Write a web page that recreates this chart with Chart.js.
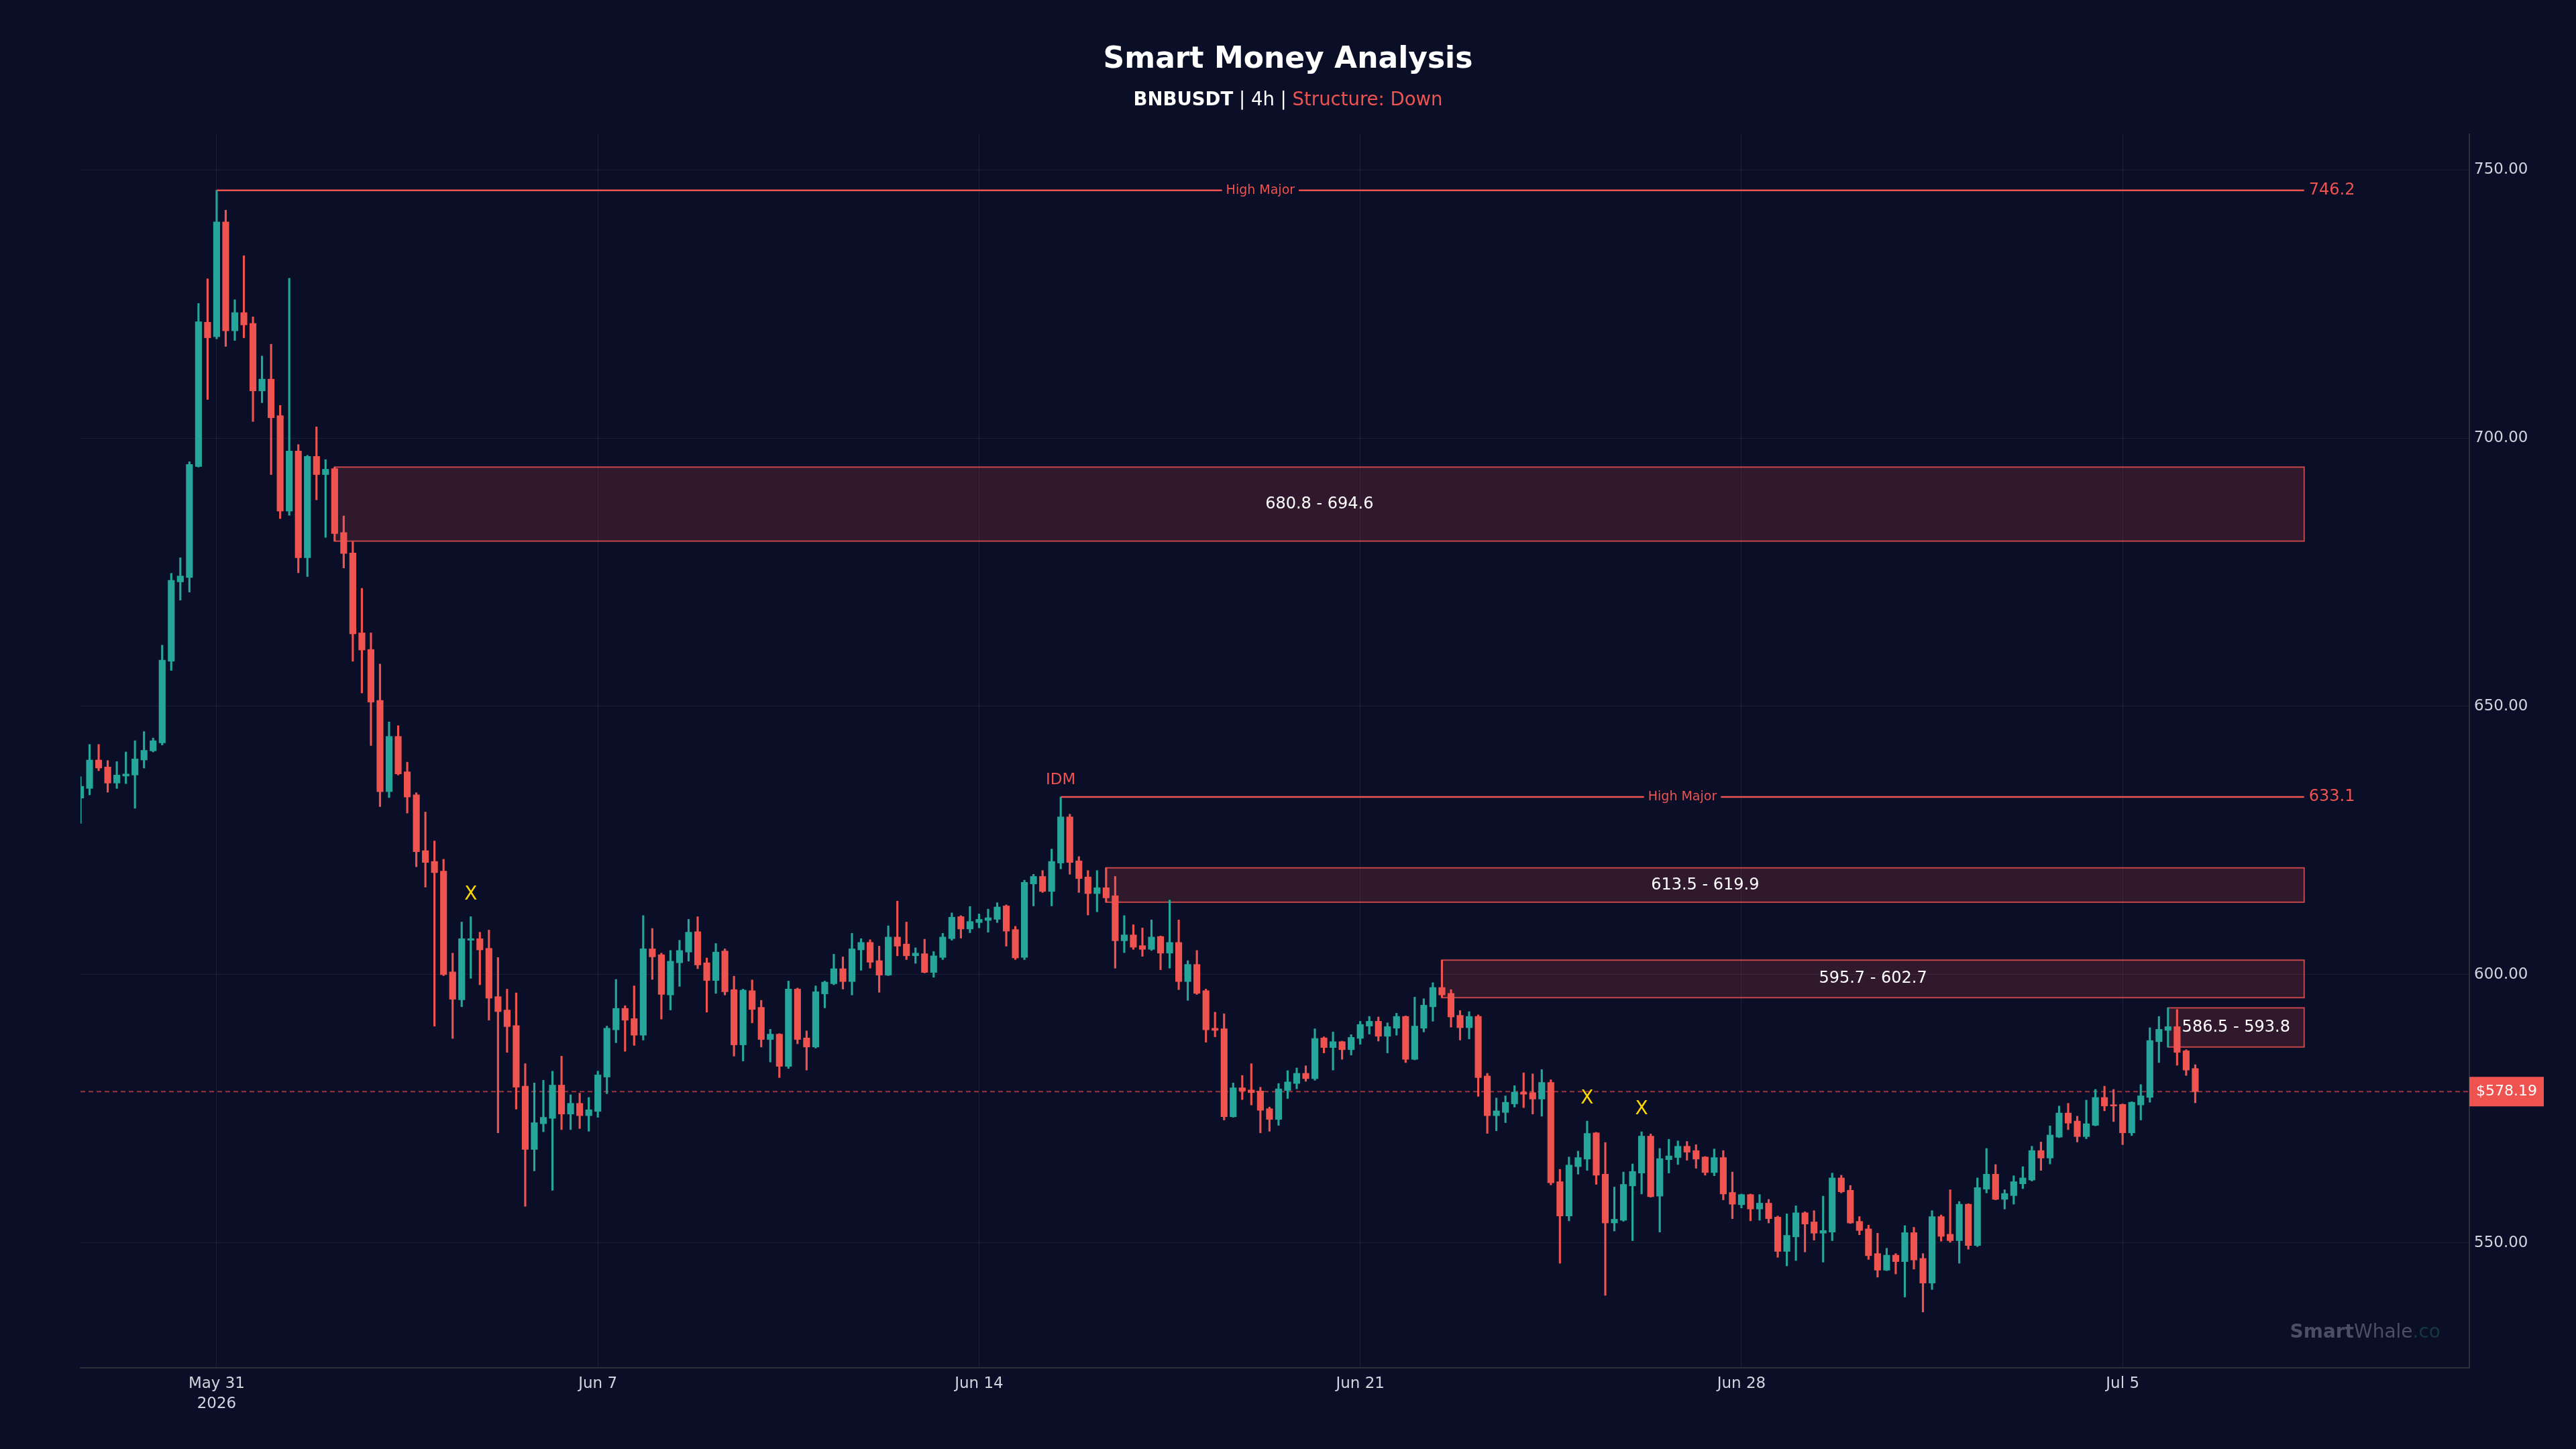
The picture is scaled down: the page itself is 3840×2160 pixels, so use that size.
<!DOCTYPE html>
<html>
<head>
<meta charset="utf-8">
<title>Smart Money Analysis</title>
<script src="https://cdn.jsdelivr.net/npm/chart.js@4.4.1/dist/chart.umd.min.js"></script>
<style>
  html, body { margin: 0; padding: 0; background: #0a0e27; }
  canvas { display: block; }
</style>
</head>
<body>
<canvas id="chart" width="3840" height="2160"></canvas>
<script>
// BNBUSDT 4h candles, index 0 = 2026-05-28 12:00
const opens = [
	632.9, 634.7, 640.0, 638.7, 635.7, 637.0, 637.2, 640.0, 641.7, 643.2,
	658.4, 673.2, 674.0, 694.7, 721.6, 718.9, 740.3, 720.0, 723.4, 721.4,
	708.8, 711.0, 704.2, 686.4, 697.6, 677.7, 696.6, 693.2, 694.3, 682.4,
	678.6, 663.7, 660.6, 651.1, 634.1, 644.4, 637.8, 633.5, 623.1, 621.1,
	619.3, 600.5, 595.3, 606.4, 606.7, 604.9, 595.9, 593.4, 590.5, 579.2,
	567.4, 572.2, 573.2, 579.4, 574.0, 576.0, 573.7, 574.5, 580.9, 589.7,
	593.7, 591.8, 588.7, 604.8, 603.7, 596.2, 602.2, 604.2, 608.0, 602.2,
	598.9, 604.4, 597.2, 586.9, 597.0, 593.9, 587.9, 588.9, 582.9, 597.3,
	588.2, 586.5, 596.4, 598.3, 601.1, 598.7, 604.6, 606.0, 602.6, 599.9,
	607.0, 605.7, 603.5, 603.9, 600.4, 603.2, 606.7, 610.8, 608.5, 609.7,
	610.1, 610.3, 612.8, 608.4, 603.2, 616.9, 618.3, 615.5, 620.8, 629.4,
	621.2, 618.2, 615.1, 616.2, 614.7, 606.3, 607.4, 605.4, 604.7, 607.1,
	604.0, 606.0, 598.7, 601.9, 597.0, 590.0, 589.9, 573.5, 578.9, 578.5,
	578.3, 575.0, 573.0, 578.4, 579.7, 581.6, 580.6, 588.2, 586.4, 587.5,
	586.0, 588.1, 590.4, 591.3, 588.5, 590.0, 592.2, 584.2, 590.0, 594.0,
	597.6, 596.5, 592.4, 590.1, 592.2, 581.1, 573.7, 574.3, 575.9, 578.1,
	578.0, 576.8, 579.9, 561.4, 555.0, 564.2, 565.6, 570.5, 562.8, 553.7,
	554.2, 560.6, 563.0, 569.9, 558.7, 565.5, 565.9, 568.0, 567.2, 566.0,
	563.1, 565.9, 559.4, 557.1, 559.0, 556.3, 557.4, 554.8, 548.4, 551.1,
	555.6, 553.9, 551.8, 552.0, 562.1, 559.8, 554.0, 552.6, 548.0, 544.9,
	547.7, 546.5, 551.9, 547.1, 542.5, 554.9, 551.6, 550.4, 557.2, 549.5,
	560.0, 562.8, 558.1, 558.8, 561.0, 561.7, 567.2, 565.8, 569.7, 574.2,
	572.7, 569.8, 571.9, 577.1, 575.7, 575.8, 570.5, 575.7, 577.1, 587.5,
	589.6, 590.3, 585.8, 582.5
];
const highs = [
	636.9, 642.9, 642.9, 639.9, 639.7, 641.5, 643.6, 645.3, 644.1, 661.4,
	674.8, 677.7, 695.6, 725.1, 729.7, 746.2, 742.5, 725.8, 734.0, 722.6,
	715.3, 717.5, 706.1, 729.8, 698.8, 696.8, 702.1, 696.0, 694.6, 685.5,
	680.7, 672.0, 663.7, 657.9, 647.1, 646.4, 639.6, 633.9, 630.3, 624.9,
	621.5, 604.0, 609.8, 610.8, 607.9, 608.3, 603.2, 597.3, 596.6, 583.4,
	579.8, 580.3, 582.0, 584.8, 577.6, 577.9, 577.1, 582.0, 590.4, 599.1,
	594.2, 597.9, 611.0, 608.6, 604.0, 604.5, 606.4, 610.3, 610.8, 603.1,
	605.8, 604.8, 599.7, 597.3, 599.0, 595.2, 589.8, 589.0, 598.8, 597.5,
	589.5, 597.9, 598.8, 603.8, 603.3, 607.7, 606.7, 606.5, 605.3, 609.1,
	613.7, 609.8, 605.0, 606.6, 604.3, 607.7, 611.5, 611.0, 612.7, 611.3,
	612.2, 613.4, 613.0, 609.0, 617.6, 618.7, 619.4, 623.4, 633.1, 629.9,
	622.0, 619.4, 619.4, 619.9, 618.3, 611.0, 609.3, 608.7, 610.2, 607.2,
	613.9, 610.2, 602.6, 604.5, 597.3, 593.0, 592.7, 579.8, 581.2, 583.4,
	579.0, 575.3, 579.7, 582.1, 582.6, 583.0, 589.9, 588.4, 589.3, 587.6,
	588.8, 591.3, 592.2, 592.1, 591.0, 592.8, 592.3, 595.8, 595.5, 598.5,
	602.7, 597.2, 593.3, 593.1, 592.5, 581.6, 577.0, 577.4, 579.3, 581.7,
	581.5, 582.3, 580.4, 563.7, 566.0, 567.1, 572.7, 570.6, 568.7, 560.4,
	563.2, 564.7, 570.7, 570.3, 567.6, 569.3, 569.0, 568.9, 568.3, 566.1,
	567.5, 567.2, 563.2, 559.1, 559.1, 559.0, 558.1, 555.0, 555.4, 556.9,
	555.8, 556.0, 558.7, 563.0, 562.6, 560.7, 554.9, 553.3, 551.8, 549.0,
	548.0, 553.2, 552.9, 548.0, 556.0, 555.2, 559.9, 557.7, 557.3, 562.1,
	567.6, 564.6, 559.9, 562.5, 564.2, 568.0, 568.8, 571.8, 575.5, 576.0,
	573.6, 576.6, 578.6, 579.2, 578.6, 575.9, 576.3, 579.5, 590.1, 592.2,
	593.8, 593.5, 586.0, 583.2
];
const lows = [
	628.2, 633.5, 638.0, 634.0, 634.7, 635.6, 631.0, 638.5, 641.5, 642.8,
	656.7, 669.8, 671.3, 694.6, 707.2, 718.5, 717.1, 718.2, 718.7, 703.1,
	706.6, 693.2, 685.0, 685.6, 674.9, 674.2, 688.5, 681.5, 680.8, 675.8,
	658.4, 652.5, 642.7, 631.3, 633.0, 637.2, 630.1, 620.1, 616.3, 590.4,
	599.8, 588.1, 594.0, 599.3, 598.1, 591.5, 570.5, 585.5, 574.9, 556.8,
	563.4, 570.7, 559.8, 571.1, 571.1, 571.3, 570.8, 573.4, 577.8, 587.3,
	585.7, 586.8, 587.8, 599.1, 591.7, 593.4, 597.8, 602.5, 601.1, 593.0,
	596.5, 596.2, 584.8, 583.9, 591.0, 586.5, 583.7, 580.8, 582.5, 587.1,
	582.2, 586.3, 593.8, 598.1, 597.3, 596.2, 600.8, 601.2, 596.7, 599.8,
	603.5, 602.8, 602.1, 600.3, 599.5, 602.8, 606.4, 606.8, 607.8, 608.7,
	607.9, 609.7, 605.3, 602.8, 602.8, 612.8, 615.3, 612.8, 619.7, 618.7,
	615.3, 611.1, 611.7, 613.5, 601.2, 604.1, 604.7, 603.4, 604.5, 600.9,
	601.2, 597.2, 595.2, 596.3, 587.4, 588.4, 572.9, 573.4, 576.7, 575.7,
	570.5, 570.8, 571.9, 576.9, 578.7, 580.1, 580.3, 585.4, 582.2, 584.2,
	585.0, 587.0, 588.9, 587.6, 585.4, 588.7, 583.6, 584.1, 589.3, 591.3,
	595.7, 590.2, 587.8, 588.0, 577.3, 570.4, 570.9, 572.4, 575.3, 575.2,
	574.0, 573.6, 560.8, 546.2, 554.1, 562.8, 563.5, 560.9, 540.2, 552.2,
	554.0, 550.4, 559.1, 558.5, 552.0, 563.0, 564.6, 565.4, 563.9, 562.6,
	562.5, 558.0, 554.5, 556.5, 554.1, 554.2, 553.7, 547.3, 545.7, 546.7,
	548.3, 550.5, 546.4, 550.4, 559.3, 553.6, 551.5, 546.9, 543.6, 544.8,
	544.2, 539.9, 545.1, 537.1, 541.3, 550.3, 550.1, 546.2, 548.8, 549.3,
	559.3, 558.0, 556.3, 557.2, 560.1, 561.5, 563.5, 564.7, 569.6, 571.1,
	568.8, 569.4, 571.8, 574.6, 572.6, 568.3, 570.0, 572.9, 576.2, 583.6,
	586.5, 583.1, 581.2, 576.1
];
const closes = [
	635.1, 640.0, 638.5, 635.7, 637.2, 637.4, 640.2, 641.8, 643.6, 658.6,
	673.5, 674.3, 695.1, 721.7, 718.7, 740.3, 720.0, 723.4, 721.1, 708.8,
	711.0, 703.8, 686.4, 697.6, 677.7, 696.6, 693.2, 694.2, 682.2, 678.5,
	663.5, 660.5, 650.8, 634.1, 644.4, 637.4, 633.1, 622.9, 620.9, 619.0,
	600.0, 595.4, 606.7, 606.7, 604.6, 595.6, 593.1, 590.3, 579.0, 567.4,
	572.4, 573.4, 579.4, 574.0, 576.0, 573.7, 574.8, 581.3, 590.0, 593.7,
	591.5, 588.7, 604.8, 603.3, 596.3, 602.5, 604.5, 607.9, 601.8, 598.9,
	604.2, 596.8, 586.9, 597.1, 593.5, 587.9, 588.9, 582.9, 597.3, 587.9,
	586.5, 596.8, 598.6, 601.1, 598.7, 604.8, 606.0, 602.3, 599.9, 607.0,
	605.3, 603.5, 604.0, 600.4, 603.5, 607.0, 610.7, 608.5, 609.9, 610.3,
	610.6, 612.6, 608.1, 603.1, 617.2, 618.3, 615.5, 621.1, 629.4, 620.9,
	617.9, 615.1, 616.2, 614.3, 606.3, 607.4, 605.1, 604.7, 607.0, 604.0,
	606.0, 598.7, 601.9, 596.5, 589.7, 589.6, 573.5, 578.9, 578.3, 578.0,
	574.7, 573.0, 578.7, 580.0, 581.6, 580.6, 588.1, 586.4, 587.5, 586.0,
	588.3, 590.7, 591.3, 588.5, 590.3, 592.2, 584.2, 590.4, 594.3, 597.6,
	596.2, 592.1, 590.1, 592.2, 580.8, 573.7, 574.6, 576.2, 578.1, 577.7,
	576.8, 579.9, 561.2, 555.0, 564.5, 565.9, 570.4, 562.6, 553.7, 554.4,
	560.9, 563.3, 569.9, 558.6, 565.7, 566.2, 568.0, 566.9, 565.6, 563.1,
	565.9, 559.1, 557.2, 559.0, 556.3, 557.4, 554.5, 548.4, 551.4, 555.6,
	553.5, 551.8, 552.3, 562.1, 559.5, 553.7, 552.3, 547.6, 544.9, 547.7,
	546.5, 551.9, 546.8, 542.5, 554.9, 551.2, 550.4, 557.2, 549.5, 560.3,
	562.8, 558.1, 559.2, 561.4, 562.1, 567.2, 565.8, 570.1, 574.2, 572.3,
	569.8, 572.2, 577.1, 575.5, 575.5, 570.5, 576.2, 577.4, 587.7, 589.8,
	590.3, 585.5, 582.2, 578.19
];

// x ticks (candle index) and their labels
const tickIdx = [15, 57, 99, 141, 183, 225];
const tickLabels = [['May 31', '2026'], 'Jun 7', 'Jun 14', 'Jun 21', 'Jun 28', 'Jul 5'];
const priceTicks = [550, 600, 650, 700, 750];

// order blocks (start candle, low, high), all run to zoneEnd
const zoneStart = [28, 113, 150, 230];
const zoneLow = [680.8, 613.5, 595.7, 586.5];
const zoneHigh = [694.6, 619.9, 602.7, 593.8];
const zoneEnd = 245;

// structure highs
const levelIdx = [15, 108];
const levelPrice = [746.2, 633.1];
const levelName = 'High Major';
const idmIdx = 108;
const sweepIdx = [43, 166, 172];
const lastPrice = 578.19;

const UP = '#26a69a', DOWN = '#ef5350', BG = '#0a0e27';
const GRID = 'rgba(255,255,255,0.07)', SPINE = '#2a2e39', TXT = '#d1d4dc';
const FONT = '"DejaVu Sans", sans-serif';

Chart.defaults.font.family = FONT;

const colors = closes.map((c, i) => c >= opens[i] ? UP : DOWN);

const smcPlugin = {
	id: 'smc',
	beforeDraw(chart) {
		const c = chart.ctx;
		c.save();
		c.fillStyle = BG;
		c.fillRect(0, 0, chart.width, chart.height);
		c.restore();
	},
	beforeDatasetsDraw(chart) {
		const { ctx: c, chartArea: a, scales: { x, y } } = chart;
		c.save();
		// zones
		zoneStart.forEach((s, k) => {
			const x0 = x.getPixelForValue(s), x1 = x.getPixelForValue(zoneEnd);
			const y0 = y.getPixelForValue(zoneHigh[k]), y1 = y.getPixelForValue(zoneLow[k]);
			c.fillStyle = 'rgba(239,83,80,0.17)';
			c.fillRect(x0, y0, x1 - x0, y1 - y0);
			c.strokeStyle = 'rgba(239,83,80,0.8)';
			c.lineWidth = 2;
			c.strokeRect(x0, y0, x1 - x0, y1 - y0);
		});
		// current price
		const py = y.getPixelForValue(lastPrice);
		c.setLineDash([7, 5]);
		c.strokeStyle = 'rgba(239,83,80,0.6)';
		c.lineWidth = 2;
		c.beginPath();
		c.moveTo(a.left, py);
		c.lineTo(a.right, py);
		c.stroke();
		c.restore();
	},
	afterDatasetsDraw(chart) {
		const { ctx: c, scales: { x, y } } = chart;
		c.save();
		const xe = x.getPixelForValue(zoneEnd);

		// zone labels
		c.font = '24px ' + FONT;
		c.fillStyle = '#ffffff';
		c.textAlign = 'center';
		c.textBaseline = 'middle';
		zoneStart.forEach((s, k) => {
			const xm = (x.getPixelForValue(s) + xe) / 2;
			const ym = (y.getPixelForValue(zoneHigh[k]) + y.getPixelForValue(zoneLow[k])) / 2;
			c.fillText(zoneLow[k].toFixed(1) + ' - ' + zoneHigh[k].toFixed(1), xm, ym);
		});

		// structure lines
		levelIdx.forEach((s, k) => {
			const x0 = x.getPixelForValue(s);
			const ly = y.getPixelForValue(levelPrice[k]);
			c.strokeStyle = DOWN;
			c.lineWidth = 2.5;
			c.beginPath();
			c.moveTo(x0, ly);
			c.lineTo(xe, ly);
			c.stroke();

			c.font = '19px ' + FONT;
			const w = c.measureText(levelName).width;
			const xm = (x0 + xe) / 2;
			c.fillStyle = BG;
			c.fillRect(xm - w / 2 - 6, ly - 12, w + 12, 24);
			c.fillStyle = DOWN;
			c.textAlign = 'center';
			c.fillText(levelName, xm, ly);

			c.font = '24px ' + FONT;
			c.textAlign = 'left';
			c.fillText(levelPrice[k].toFixed(1), xe + 7, ly);
		});

		// IDM
		c.font = '23px ' + FONT;
		c.textAlign = 'center';
		c.fillStyle = DOWN;
		c.fillText('IDM', x.getPixelForValue(idmIdx), y.getPixelForValue(highs[idmIdx]) - 25);

		// liquidity sweeps
		c.font = '28px ' + FONT;
		c.fillStyle = '#ffd700';
		sweepIdx.forEach(i => {
			c.fillText('X', x.getPixelForValue(i), y.getPixelForValue(highs[i]) - 33);
		});
		c.restore();
	},
	afterDraw(chart) {
		const { ctx: c, chartArea: a, scales: { y } } = chart;
		c.save();
		const cx = chart.width / 2;

		// title
		c.fillStyle = '#ffffff';
		c.textAlign = 'center';
		c.textBaseline = 'alphabetic';
		c.font = 'bold 44px ' + FONT;
		c.fillText('Smart Money Analysis', cx, 101);

		// subtitle
		const parts = [
			['BNBUSDT', 'bold 27.5px ' + FONT, '#ffffff'],
			[' | 4h | ', '27.5px ' + FONT, '#ffffff'],
			['Structure: Down', '27.5px ' + FONT, DOWN]
		];
		let total = 0;
		parts.forEach(p => { c.font = p[1]; total += c.measureText(p[0]).width; });
		let sx = cx - total / 2;
		c.textAlign = 'left';
		parts.forEach(p => {
			c.font = p[1];
			c.fillStyle = p[2];
			c.fillText(p[0], sx, 157);
			sx += c.measureText(p[0]).width;
		});

		// price tag
		const py = y.getPixelForValue(lastPrice);
		c.fillStyle = DOWN;
		c.fillRect(a.right, py - 22, 111, 44);
		c.fillStyle = '#ffffff';
		c.font = '22px ' + FONT;
		c.textAlign = 'center';
		c.textBaseline = 'middle';
		c.fillText('$' + lastPrice.toFixed(2), a.right + 55.5, py);

		// watermark
		const wm = [
			['Smart', 'bold 28px ' + FONT, '#4a4e66'],
			['Whale', '28px ' + FONT, '#4a4e66'],
			['.co', '28px ' + FONT, '#15393d']
		];
		total = 0;
		wm.forEach(p => { c.font = p[1]; total += c.measureText(p[0]).width; });
		sx = a.right - 43 - total;
		c.textAlign = 'left';
		c.textBaseline = 'alphabetic';
		wm.forEach(p => {
			c.font = p[1];
			c.fillStyle = p[2];
			c.fillText(p[0], sx, 1994);
			sx += c.measureText(p[0]).width;
		});
		c.restore();
	}
};

new Chart(document.getElementById('chart'), {
	type: 'bar',
	data: {
		datasets: [{
			label: 'body',
			data: opens.map((o, i) => ({ x: i, y: [o, closes[i]] })),
			backgroundColor: colors,
			barThickness: 9.5,
			minBarLength: 2,
			grouped: false,
			order: 0
		}, {
			label: 'wick',
			data: lows.map((l, i) => ({ x: i, y: [l, highs[i]] })),
			backgroundColor: colors,
			barThickness: 2.5,
			grouped: false,
			order: 1
		}]
	},
	options: {
		responsive: false,
		animation: false,
		devicePixelRatio: 1,
		layout: { padding: { left: 120, top: 200, right: 0, bottom: 0 } },
		plugins: {
			legend: { display: false },
			tooltip: { enabled: false }
		},
		scales: {
			x: {
				type: 'linear',
				min: 0,
				max: 263.2,
				offset: false,
				grid: { color: GRID, lineWidth: 1, drawTicks: false, offset: false },
				border: { display: true, color: SPINE, width: 2 },
				ticks: {
					color: TXT,
					font: { size: 23, lineHeight: 1.3 },
					padding: 9,
					maxRotation: 0,
					autoSkip: false,
					callback: (v, i) => tickLabels[i]
				},
				afterBuildTicks: s => { s.ticks = tickIdx.map(v => ({ value: v })); },
				afterFit: s => { s.height = 121; }
			},
			y: {
				position: 'right',
				min: 526.7,
				max: 756.66,
				grid: { color: GRID, lineWidth: 1, drawTicks: false },
				border: { display: true, color: SPINE, width: 2 },
				ticks: {
					color: TXT,
					font: { size: 23 },
					padding: 7,
					callback: v => v.toFixed(2)
				},
				afterBuildTicks: s => { s.ticks = priceTicks.map(v => ({ value: v })); },
				afterFit: s => { s.width = 159; }
			}
		}
	},
	plugins: [smcPlugin]
});
</script>
</body>
</html>
